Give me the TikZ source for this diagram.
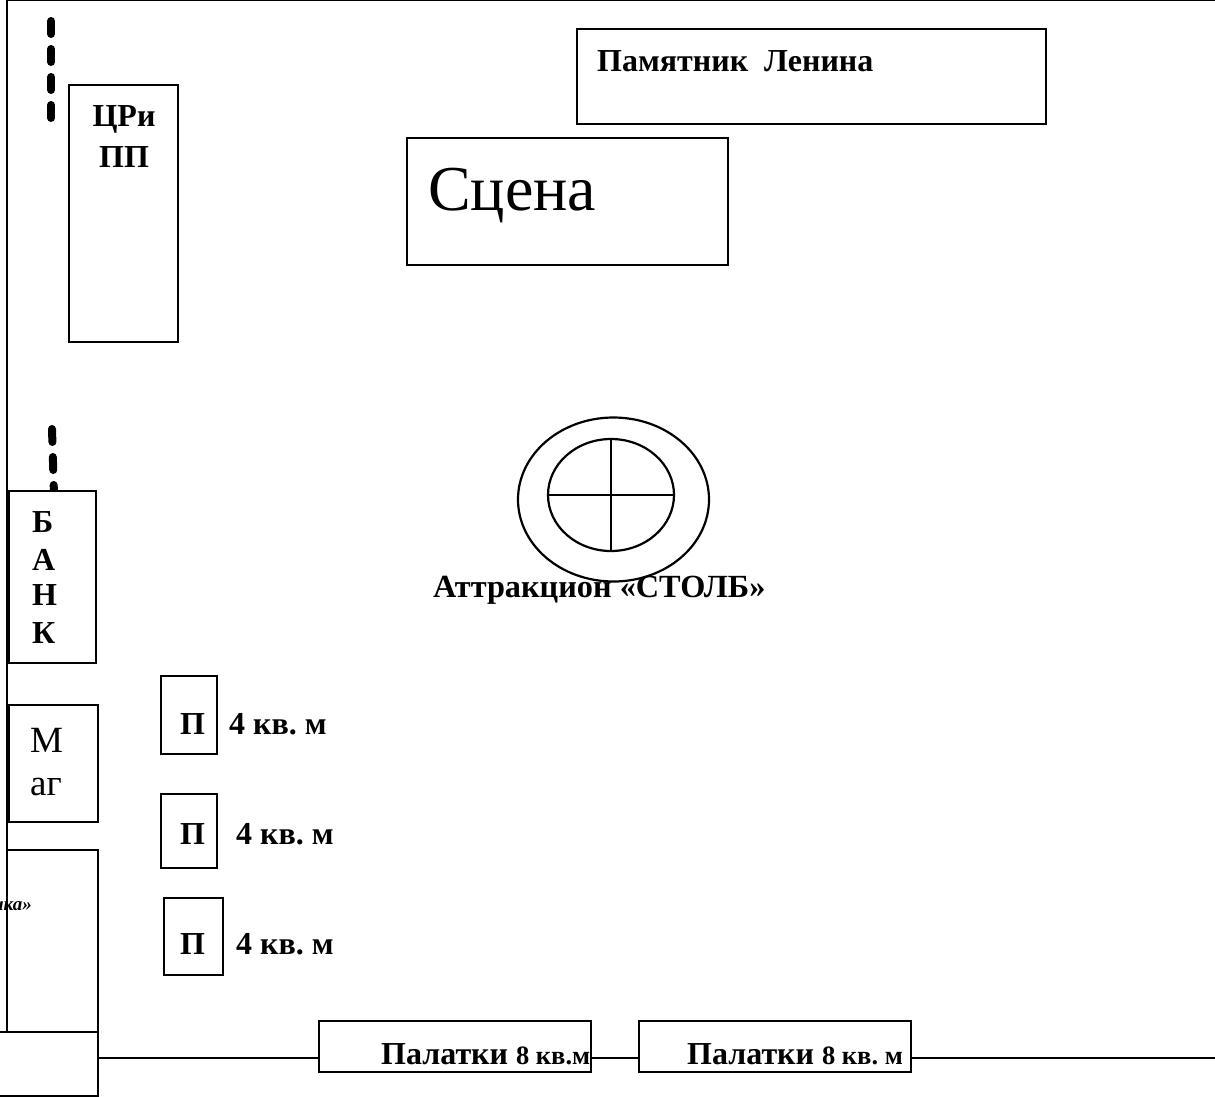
\documentclass[tikz,border=0pt]{standalone}
\usepackage{fontspec}
\setmainfont{Liberation Serif}
\frenchspacing
\tikzset{
  x=1pt,y=-1pt,
  line/.style={draw=black,line width=2.2pt},
  boxx/.style={draw=black,line width=2.2pt,fill=white},
  dashline/.style={draw=black,line width=8pt,line cap=round,dash pattern=on 13pt off 15pt},
  lbl/.style={inner sep=0pt,anchor=base west,font=\fontsize{32}{36}\selectfont\bfseries},
  big/.style={inner sep=0pt,anchor=base west,font=\fontsize{64}{70}\selectfont},
  med/.style={inner sep=0pt,anchor=base west,font=\fontsize{37}{40}\selectfont},
}
\newcommand{\smalltxt}[1]{{\fontsize{26.5}{30}\selectfont #1}}
\begin{document}
\begin{tikzpicture}
\useasboundingbox (0,0) rectangle (1215,1096);
\clip (0,0) rectangle (1215,1096);
\fill[white] (0,0) rectangle (1215,1096);
% outer lines
\coordinate (tl) at (7,0);
\coordinate (tr) at (1215,0);
\coordinate (bl) at (7,1032);
\coordinate (lineL) at (98,1058);
\coordinate (lineR) at (1215,1058);
\draw[line] (tr) -- (tl) -- (bl);
\draw[line] (lineL) -- (lineR);
% dashed
\coordinate (d1a) at (51,21);
\coordinate (d1b) at (51,119);
\draw[dashline] (d1a) -- (d1b);
\coordinate (d2a) at (52,429);
\coordinate (d2b) at (54,495);
\draw[dashline] (d2a) -- (d2b);
% boxes
\draw[boxx] (69,85) rectangle (178,342);
\draw[boxx] (577,29) rectangle (1046,124);
\draw[boxx] (407,138) rectangle (728,265);
\draw[boxx] (9,491) rectangle (96,663);
\draw[boxx] (9,705) rectangle (98,822);
\draw[boxx] (7,850) rectangle (98,1032);
\draw[boxx] (-5,1032) rectangle (98,1096);
\draw[boxx] (161,676) rectangle (217,754);
\draw[boxx] (161,794) rectangle (217,868);
\draw[boxx] (164,898) rectangle (223,975);
\draw[boxx] (319,1021) rectangle (591,1072);
\draw[boxx] (639,1021) rectangle (911,1072);
% attraction
\coordinate (ec) at (613.5,499.5);
\draw[line] (ec) ellipse [x radius=95.5,y radius=82];
\draw[line] (611,495) ellipse [x radius=63,y radius=56];
\coordinate (vt) at (611,439);
\coordinate (vb) at (611,551);
\coordinate (hl) at (548,495);
\coordinate (hr) at (674,495);
\draw[line] (vt) -- (vb);
\draw[line] (hl) -- (hr);
% text
\node[lbl] (t1) at (597,71) {Памятник\hspace{8pt} Ленина};
\node[big] (t2) at (428,210) {Сцена};
\node[lbl,anchor=base] (t3) at (124,126) {ЦРи};
\node[lbl,anchor=base] (t4) at (124,167) {ПП};
\node[lbl,font=\fontsize{32.3}{36}\selectfont\bfseries] (t5) at (433,597) {Аттракцион «СТОЛБ»};
\node[lbl] (b1) at (32,532) {Б};
\node[lbl] (b2) at (32,570) {А};
\node[lbl] (b3) at (32,605) {Н};
\node[lbl] (b4) at (32,643) {К};
\node[med] (m1) at (30,752) {М};
\node[med] (m2) at (30,795) {аг};
\node[inner sep=0,anchor=base east,font=\fontsize{19}{22}\selectfont\bfseries\itshape] (ka) at (32,910) {ика»};
\node[lbl] (p1) at (180,734) {П};
\node[lbl] (p2) at (180,844) {П};
\node[lbl] (p3) at (180,954) {П};
\node[lbl] (q1) at (229,734) {4 кв. м};
\node[lbl] (q2) at (236,844) {4 кв. м};
\node[lbl] (q3) at (236,954) {4 кв. м};
\node[lbl] (r1) at (381,1064) {Палатки \smalltxt{8 кв.м}};
\node[lbl] (r2) at (687,1064) {Палатки \smalltxt{8 кв. м}};
\end{tikzpicture}
\end{document}
